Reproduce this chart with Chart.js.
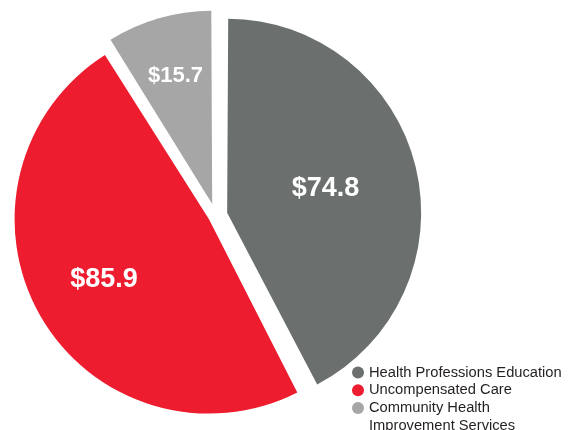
<!DOCTYPE html>
<html>
<head>
<meta charset="utf-8">
<script src="https://cdn.jsdelivr.net/npm/chart.js@4.4.1/dist/chart.umd.min.js"></script>
<style>
  html, body { margin: 0; padding: 0; background: #fff; }
  #wrap { width: 571px; height: 430px; position: relative; }
</style>
</head>
<body>
<div id="wrap"><canvas id="pieChart" width="571" height="430"></canvas></div>
<script>
const categories = ["Health Professions Education", "Uncompensated Care", "Community Health Improvement Services"];
const legendLines = [["Health Professions Education"], ["Uncompensated Care"], ["Community Health", "Improvement Services"]];
const amounts = [74.8, 85.9, 15.7];
const valueLabels = ["$74.8", "$85.9", "$15.7"];
const sliceColors = ["#6b706e", "#ed1c2e", "#a6a6a6"];

// per-slice explode distance (chart.js divides by 4 when drawing)
const sliceOffsets = [48, 30, 48];
const labelRadius = [0.54, 0.645, 0.71];
const labelFont = [27, 27, 22];

const labelPlugin = {
  id: "sliceLabels",
  afterDatasetsDraw(chart) {
    const ctx = chart.ctx;
    const arcs = chart.getDatasetMeta(0).data;
    ctx.save();
    ctx.fillStyle = "#fff";
    ctx.textAlign = "center";
    ctx.textBaseline = "middle";
    arcs.forEach((arc, i) => {
      const p = arc.getProps(["x", "y", "startAngle", "endAngle", "outerRadius"], true);
      const mid = (p.startAngle + p.endAngle) / 2;
      const d = sliceOffsets[i] / 4 + labelRadius[i] * p.outerRadius;
      ctx.font = "bold " + labelFont[i] + "px 'Liberation Sans', Arial, sans-serif";
      ctx.fillText(valueLabels[i], p.x + Math.cos(mid) * d, p.y + Math.sin(mid) * d);
    });
    ctx.restore();
  }
};

const legendPlugin = {
  id: "sideLegend",
  afterDraw(chart) {
    const ctx = chart.ctx;
    ctx.save();
    ctx.font = "14.7px 'Liberation Sans', Arial, sans-serif";
    ctx.textBaseline = "middle";
    let y = 372.5;
    legendLines.forEach((lines, i) => {
      ctx.fillStyle = sliceColors[i];
      ctx.beginPath();
      ctx.arc(358, y, 6, 0, Math.PI * 2);
      ctx.fill();
      ctx.fillStyle = "#231f20";
      lines.forEach((t) => {
        ctx.fillText(t, 369, y);
        y += 17.7;
      });
    });
    ctx.restore();
  }
};

const ctx = document.getElementById("pieChart");
new Chart(ctx, {
  type: "pie",
  data: {
    labels: categories,
    datasets: [
      {
        data: amounts,
        backgroundColor: sliceColors,
        borderWidth: 0,
        offset: sliceOffsets,
        hoverOffset: 0,
      },
    ],
  },
  options: {
    responsive: false,
    animation: false,
    layout: { padding: { left: 4, right: 144, top: 4, bottom: 3 } },
    plugins: {
      legend: { display: false },
      tooltip: { enabled: false },
    },
  },
  plugins: [labelPlugin, legendPlugin],
});
</script>
</body>
</html>
